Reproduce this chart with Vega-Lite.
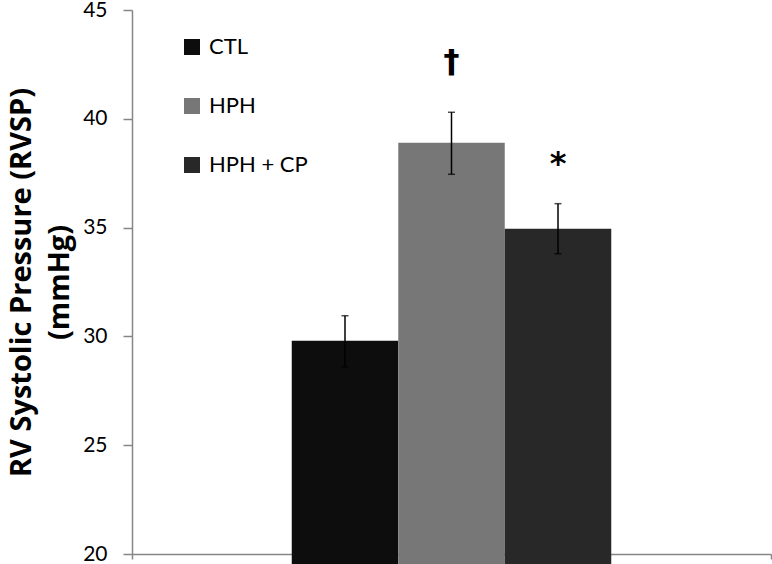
{
  "$schema": "https://vega.github.io/schema/vega-lite/v6.json",
  "width": 639,
  "height": 544,
  "autosize": "none",
  "padding": {"left": 132, "top": 10, "right": 1, "bottom": 10},
  "background": "white",
  "config": {
    "view": {"stroke": null},
    "font": "Lato"
  },
  "data": {
    "values": [
      {"group": "", "condition": "CTL", "value": 29.8, "lo": 28.6, "hi": 30.95, "sig": "", "sig_y": 0},
      {"group": "", "condition": "HPH", "value": 38.9, "lo": 37.45, "hi": 40.3, "sig": "†", "sig_y": 42.6},
      {"group": "", "condition": "HPH + CP", "value": 34.95, "lo": 33.8, "hi": 36.1, "sig": "*", "sig_y": 37.9}
    ]
  },
  "encoding": {
    "x": {
      "field": "group",
      "type": "nominal",
      "scale": {"paddingInner": 0, "paddingOuter": 0},
      "axis": {
        "title": null,
        "labels": false,
        "tickBand": "extent",
        "tickSize": 5,
        "tickColor": "#868686",
        "domainColor": "#868686",
        "domainWidth": 1.5,
        "tickWidth": 1.5
      }
    },
    "xOffset": {
      "field": "condition",
      "type": "nominal",
      "scale": {"domain": ["pad1", "CTL", "HPH", "HPH + CP", "pad2"], "paddingInner": 0, "paddingOuter": 0.5}
    }
  },
  "layer": [
    {
      "mark": {"type": "bar"},
      "encoding": {
        "y": {
          "field": "value",
          "type": "quantitative",
          "scale": {"domain": [20, 45], "nice": false, "zero": false},
          "axis": {
            "values": [20, 25, 30, 35, 40, 45],
            "grid": false,
            "title": ["RV Systolic Pressure (RVSP)", "(mmHg)"],
            "titleFont": "Open Sans",
            "titleFontSize": 29,
            "titleFontWeight": "bold",
            "titleColor": "#000000",
            "titlePadding": 8,
            "titleLineHeight": 38,
            "labelFont": "Lato",
            "labelFontSize": 21,
            "labelColor": "#000000",
            "labelPadding": 16,
            "tickSize": 9,
            "tickColor": "#868686",
            "tickWidth": 1.5,
            "domainColor": "#868686",
            "domainWidth": 1.5
          }
        },
        "color": {
          "field": "condition",
          "type": "nominal",
          "scale": {"domain": ["CTL", "HPH", "HPH + CP"], "range": ["#0d0d0d", "#777777", "#282828"]},
          "legend": {
            "title": null,
            "orient": "none",
            "legendX": 49,
            "legendY": 26,
            "symbolType": "square",
            "symbolSize": 256,
            "symbolStrokeWidth": 0,
            "labelFont": "Lato",
            "labelFontSize": 22,
            "labelColor": "#000000",
            "labelOffset": 6,
            "rowPadding": 37
          }
        }
      }
    },
    {
      "mark": {"type": "rule", "color": "#000000", "strokeWidth": 1.5},
      "encoding": {
        "y": {"field": "lo", "type": "quantitative"},
        "y2": {"field": "hi"}
      }
    },
    {
      "mark": {"type": "tick", "orient": "horizontal", "color": "#000000", "size": 7, "thickness": 1.5},
      "encoding": {"y": {"field": "lo", "type": "quantitative"}}
    },
    {
      "mark": {"type": "tick", "orient": "horizontal", "color": "#000000", "size": 7, "thickness": 1.5},
      "encoding": {"y": {"field": "hi", "type": "quantitative"}}
    },
    {
      "mark": {"type": "text", "fontSize": 32, "fontWeight": "bold", "color": "#000000", "baseline": "middle", "font": "DejaVu Sans"},
      "encoding": {
        "y": {"field": "sig_y", "type": "quantitative"},
        "text": {"field": "sig"}
      }
    }
  ]
}
